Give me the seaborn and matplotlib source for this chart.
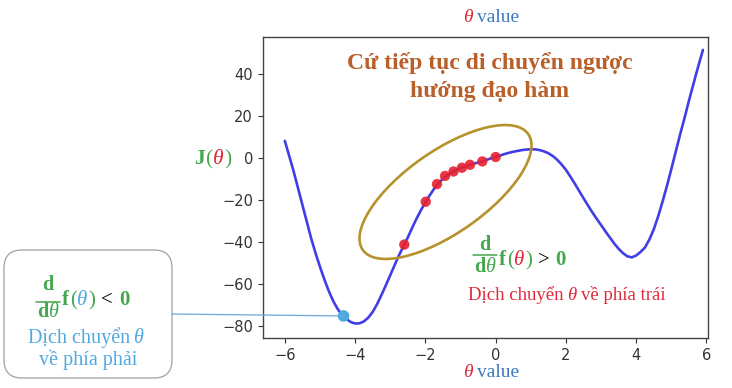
import pandas as pd
import seaborn as sns
from matplotlib import pyplot as plt
from matplotlib.lines import Line2D
from matplotlib.patches import ConnectionPatch, Ellipse, FancyBboxPatch
from matplotlib.text import Annotation
from matplotlib.transforms import IdentityTransform

# J(theta) curve
theta = [-6.0, -5.875, -5.75, -5.625, -5.5, -5.375, -5.25, -5.125, -5.0, -4.875, -4.75, -4.625,
         -4.5, -4.375, -4.25, -4.125, -4.0, -3.875, -3.75, -3.625, -3.5, -3.375, -3.25, -3.125,
         -3.0, -2.875, -2.75, -2.625, -2.5, -2.375, -2.25, -2.125, -2.0, -1.875, -1.75, -1.625,
         -1.5, -1.375, -1.25, -1.125, -1.0, -0.875, -0.75, -0.625, -0.5, -0.375, -0.25, -0.125,
         0.0, 0.125, 0.25, 0.375, 0.5, 0.625, 0.75, 0.875, 1.0, 1.125, 1.25, 1.375,
         1.5, 1.625, 1.75, 1.875, 2.0, 2.125, 2.25, 2.375, 2.5, 2.625, 2.75, 2.875,
         3.0, 3.125, 3.25, 3.375, 3.5, 3.625, 3.75, 3.875, 4.0, 4.125, 4.25, 4.375,
         4.5, 4.625, 4.75, 4.875, 5.0, 5.125, 5.25, 5.375, 5.5, 5.625, 5.75, 5.9]
cost = [8.0, 0.8, -6.5, -14.5, -22.5, -30.5, -38.5, -45.5, -52.0, -58.0, -63.5, -68.2,
        -72.0, -74.8, -76.8, -78.3, -79.0, -78.9, -78.0, -76.2, -73.5, -69.8, -65.4, -60.8,
        -56.0, -51.2, -46.5, -42.2, -38.0, -33.4, -29.0, -25.0, -21.3, -17.9, -14.8, -12.2,
        -10.0, -8.4, -7.0, -5.9, -5.0, -4.2, -3.5, -2.9, -2.3, -1.7, -1.0, -0.3,
        0.3, 1.0, 1.7, 2.3, 2.8, 3.2, 3.6, 3.85, 4.0, 3.95, 3.6, 3.0,
        2.1, 0.8, -1.0, -3.2, -5.8, -9.0, -12.3, -15.8, -19.3, -22.7, -26.0, -29.1,
        -32.1, -35.1, -38.0, -40.9, -43.4, -45.5, -47.0, -47.5, -46.6, -44.9, -42.8, -39.0,
        -34.2, -28.0, -21.0, -13.5, -5.5, 2.8, 11.0, 18.8, 27.0, 34.8, 42.5, 51.3]

# gradient descent steps (red) and the left start point (light blue)
step_theta = [0.0, -0.38, -0.73, -0.96, -1.20, -1.44, -1.67, -1.99, -2.60]
step_cost = [0.3, -1.8, -3.4, -4.8, -6.6, -8.7, -12.6, -21.0, -41.4]
start_theta = [-4.33]
start_cost = [-75.4]

x_ticks = [-6, -4, -2, 0, 2, 4, 6]
y_ticks = [-80, -60, -40, -20, 0, 20, 40]

W, H = 732, 388
SERIF = 'Liberation Serif'
GREEN = '#45a84e'
RED = '#e0283a'
BLUE = '#3a78c2'
LIGHT = '#4fa9e0'
BROWN = '#b9602a'
GOLD = '#b5922c'

sns.set_theme(style='ticks')
plt.rcParams['font.family'] = ['DejaVu Sans']

fig = plt.figure(figsize=(W / 100, H / 100), dpi=100)
fig.patch.set_facecolor('white')
ax = fig.add_axes([262.7 / W, 1 - 338 / H, (707.5 - 262.7) / W, (338 - 36.7) / H])

curve = pd.DataFrame({'theta': theta, 'cost': cost})
sns.lineplot(data=curve, x='theta', y='cost', color='#3f3fe6', lw=1.9, sort=False, ax=ax)
sns.scatterplot(x=step_theta, y=step_cost, color='#e8202e', s=55, alpha=0.9,
                edgecolor='none', zorder=3, ax=ax)
sns.scatterplot(x=start_theta, y=start_cost, color=LIGHT, s=70,
                edgecolor='none', zorder=3, ax=ax)

ax.set_xlim(-6.63, 6.03)
ax.set_ylim(-85.9, 57.6)
ax.set_xticks(x_ticks)
ax.set_yticks(y_ticks)
ax.set_xlabel('')
ax.set_ylabel('')
ax.tick_params(labelsize=10.5, colors='#333333', length=3.5, width=0.8)
for sp in ax.spines.values():
    sp.set_visible(True)
    sp.set_color('#444444')
    sp.set_linewidth(1.0)


def chain(x, y, parts, size):
    # parts: (text, color, weight, style, gap in px); x, y in picture pixels
    prev = None
    for s, color, weight, style, gap in parts:
        kw = dict(color=color, fontsize=size, family=SERIF, fontweight=weight,
                  fontstyle=style, va='baseline', ha='left')
        if prev is None:
            t = fig.text(x / W, 1 - y / H, s, **kw)
        else:
            t = Annotation(s, xy=(1, H - y), xycoords=(prev, 'figure pixels'),
                           xytext=(gap, 0), textcoords='offset pixels', **kw)
            fig.add_artist(t)
        prev = t
    return prev


def frac(cx, y_num, y_bar, y_den, half, size):
    fig.text(cx / W, 1 - y_num / H, 'd', color=GREEN, fontsize=size, family=SERIF,
             fontweight='bold', ha='center', va='baseline')
    fig.add_artist(Line2D([cx - half, cx + half], [H - y_bar, H - y_bar],
                          transform=IdentityTransform(), color=GREEN, lw=1.1))
    fig.text((cx + 0.5) / W, 1 - y_den / H, 'd', color=GREEN, fontsize=size, family=SERIF,
             fontweight='bold', ha='right', va='baseline')
    fig.text((cx + 0.5) / W, 1 - y_den / H, 'θ', color=GREEN, fontsize=size, family=SERIF,
             fontstyle='italic', ha='left', va='baseline')


# axis labels
theta_value = [('θ', RED, 'normal', 'italic', 0), ('value', BLUE, 'normal', 'normal', 4)]
chain(463, 21.5, theta_value, 14)
chain(463, 377, theta_value, 14)
chain(194, 164, [('J', GREEN, 'bold', 'normal', 0), ('(', GREEN, 'normal', 'normal', 1),
                 ('θ', RED, 'normal', 'italic', 0), (')', GREEN, 'normal', 'normal', 1)], 15.5)

# heading inside the plot
fig.text(490 / W, 1 - 68.5 / H, 'Cứ tiếp tục di chuyển ngược', color=BROWN, fontsize=17,
         family=SERIF, fontweight='bold', ha='center', va='baseline')
fig.text(490 / W, 1 - 96.5 / H, 'hướng đạo hàm', color=BROWN, fontsize=17,
         family=SERIF, fontweight='bold', ha='center', va='baseline')

# ellipse around the steps
fig.add_artist(Ellipse((445.5, H - 192), 202, 82, angle=35, fill=False, edgecolor=GOLD,
                       lw=1.9, transform=IdentityTransform(), zorder=4))

# right formula
frac(485, 250, 254.5, 271.5, 12, 14.5)
chain(499, 265, [('f', GREEN, 'bold', 'normal', 0), ('(', GREEN, 'normal', 'normal', 1),
                 ('θ', RED, 'normal', 'italic', 0), (')', GREEN, 'normal', 'normal', 1),
                 ('>', 'black', 'normal', 'normal', 6), ('0', GREEN, 'bold', 'normal', 6)], 15)
chain(468, 300, [('Dịch chuyển', RED, 'normal', 'normal', 0), ('θ', RED, 'normal', 'italic', 3),
                 ('về phía trái', RED, 'normal', 'normal', 5)], 13.5)

# left box
fig.add_artist(FancyBboxPatch((4, H - 378), 168, 128, boxstyle='round,pad=0,rounding_size=18',
                              facecolor='none', edgecolor='#aaaaaa', lw=1.0,
                              transform=IdentityTransform(), zorder=1))
frac(48, 290, 301.5, 317, 12, 14.5)
chain(62, 305, [('f', GREEN, 'bold', 'normal', 0), ('(', GREEN, 'normal', 'normal', 1),
                ('θ', LIGHT, 'normal', 'italic', 0), (')', GREEN, 'normal', 'normal', 1),
                ('<', 'black', 'normal', 'normal', 6), ('0', GREEN, 'bold', 'normal', 6)], 15)
chain(28, 343, [('Dịch chuyển', LIGHT, 'normal', 'normal', 0),
                ('θ', LIGHT, 'normal', 'italic', 3)], 14.5)
fig.text(88 / W, 1 - 365 / H, 'về phía phải', color=LIGHT, fontsize=14.5, family=SERIF,
         ha='center', va='baseline')

con = ConnectionPatch(xyA=(172, H - 314), coordsA='figure pixels',
                      xyB=(start_theta[0], start_cost[0]), coordsB=ax.transData,
                      color='#6fa8d6', lw=0.9, zorder=2)
fig.add_artist(con)

fig.savefig('out.png', dpi=100, facecolor='white')
